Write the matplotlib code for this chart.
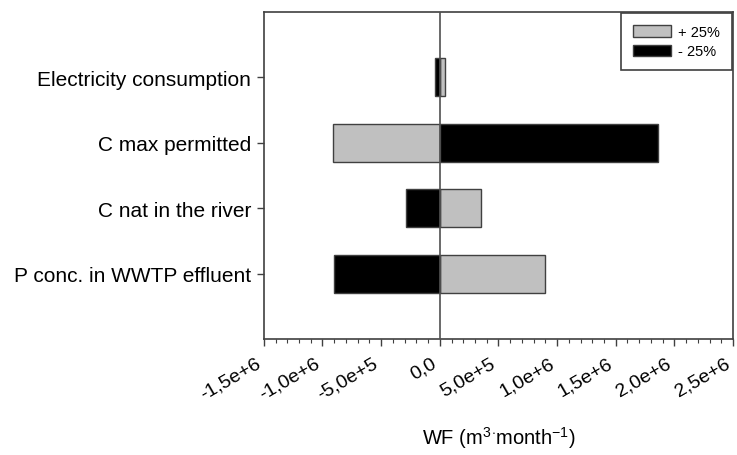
import matplotlib
matplotlib.use("Agg")
import matplotlib.pyplot as plt
from matplotlib.ticker import FuncFormatter, MultipleLocator

plt.rcParams["font.family"] = ["Liberation Sans", "DejaVu Sans"]
plt.rcParams["mathtext.fontset"] = "custom"
plt.rcParams["mathtext.rm"] = "Liberation Sans"
plt.rcParams["mathtext.it"] = "Liberation Sans"

# ---- data (bottom to top) ----
categories = ["P conc. in WWTP effluent", "C nat in the river",
              "C max permitted", "Electricity consumption"]
plus25 = [0.90e6, 0.355e6, -0.91e6, 0.043e6]
minus25 = [-0.90e6, -0.29e6, 1.86e6, -0.043e6]


def sci_comma(v, pos):
    if abs(v) < 1e-9:
        return "0,0"
    m, e = f"{v:.1e}".split("e")
    return f"{m.replace('.', ',')}e{int(e):+d}"


fig = plt.figure(figsize=(7.37, 4.56), dpi=100)
ax = fig.add_axes([0.358, 0.2544, 0.6366, 0.7171])

y = range(len(categories))
edge = "#404040"
ax.barh(y, plus25, height=0.58, color="#c0c0c0", edgecolor=edge, lw=1.0, label="+ 25%", zorder=2)
ax.barh(y, minus25, height=0.58, color="black", edgecolor=edge, lw=1.0, label="- 25%", zorder=2)
ax.axvline(0, color="#505050", lw=1.2, zorder=3)

ax.set_xlim(-1.5e6, 2.5e6)
ax.set_ylim(-1, 4)
ax.set_yticks(list(y))
ax.set_yticklabels(categories, fontsize=15)
ax.xaxis.set_major_locator(MultipleLocator(5e5))
ax.xaxis.set_minor_locator(MultipleLocator(1e5))
ax.xaxis.set_major_formatter(FuncFormatter(sci_comma))
for lab in ax.get_xticklabels():
    lab.set_rotation(30)
    lab.set_ha("right")
    lab.set_fontsize(14)
ax.tick_params(axis="x", which="major", direction="out", length=5, width=1, color=edge, pad=6)
ax.tick_params(axis="x", which="minor", direction="out", length=3, width=0.8, color=edge)
ax.tick_params(axis="y", direction="out", length=5, width=1, color=edge, pad=4)
for s in ax.spines.values():
    s.set_color(edge)
    s.set_linewidth(1.2)

ax.set_xlabel(r"WF (m$^{3}$$^{\cdot}$month$^{-1}$)", fontsize=14.5, labelpad=16)

leg = ax.legend(loc="upper right", fontsize=10.5, fancybox=False, framealpha=1,
                edgecolor=edge, handlelength=2.6, handleheight=0.8, handletextpad=0.5,
                borderaxespad=0.1, borderpad=0.8, labelspacing=0.35)
leg.get_frame().set_linewidth(1.2)

fig.savefig("out.png", dpi=100)
